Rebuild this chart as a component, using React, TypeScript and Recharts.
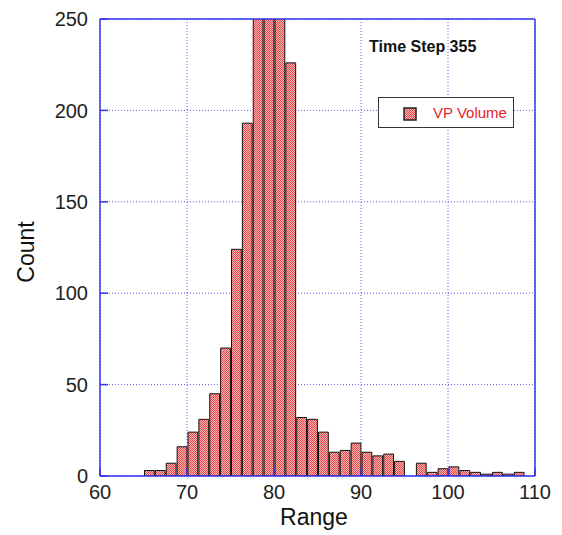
import { ComposedChart, Bar, XAxis, YAxis, CartesianGrid, ReferenceLine } from 'recharts'

// bin centres (bins are 1.25 wide, starting at 65)
const binCenters = [
  65.625, 66.875, 68.125, 69.375, 70.625, 71.875, 73.125, 74.375, 75.625, 76.875,
  78.125, 79.375, 80.625, 81.875, 83.125, 84.375, 85.625, 86.875, 88.125, 89.375,
  90.625, 91.875, 93.125, 94.375, 95.625, 96.875, 98.125, 99.375, 100.625, 101.875,
  103.125, 104.375, 105.625, 106.875, 108.125,
]
const counts = [
  3, 3, 7, 16, 24, 31, 45, 70, 124, 193,
  290, 310, 300, 226, 32, 31, 24, 13, 14, 18,
  13, 11, 12, 8, 0, 7, 2, 4, 5, 3,
  2, 1, 2, 1, 2,
]
const xTicks = [60, 70, 80, 90, 100, 110]
const yTicks = [0, 50, 100, 150, 200, 250]

const data = binCenters.map((x, i) => ({ x, count: counts[i] }))

const AXIS = '#3535ee'
const FONT = '"Liberation Sans", Arial, Helvetica, sans-serif'
const tickStyle = { fontSize: 20, fill: '#222', fontFamily: FONT }

export default function App() {
  return (
    <div style={{ position: 'absolute', left: 0, top: 0, width: 562, height: 535, background: '#fff' }}>
      <svg width={0} height={0} style={{ position: 'absolute' }}>
        <defs>
          <pattern id="hatch" patternUnits="userSpaceOnUse" width={2} height={2}>
            <rect width={2} height={2} fill="#fbb4b4" />
            <rect x={0} y={0} width={1} height={1} fill="#e64a4a" />
            <rect x={1} y={1} width={1} height={1} fill="#e64a4a" />
          </pattern>
        </defs>
      </svg>
      <ComposedChart
        width={562}
        height={535}
        data={data}
        margin={{ top: 19, right: 27, bottom: 0, left: 0 }}
      >
        <CartesianGrid stroke="#5b5bf0" strokeDasharray="1 2" />
        <XAxis
          dataKey="x"
          type="number"
          domain={[60, 110]}
          ticks={xTicks}
          allowDataOverflow
          height={59}
          stroke={AXIS}
          strokeWidth={1.5}
          tick={tickStyle}
          tickSize={-8}
          tickMargin={17}
          tickLine={{ stroke: AXIS }}
          label={{
            content: () => (
              <text x={314} y={525} textAnchor="middle" fontSize={23} fill="#111" fontFamily={FONT}>
                Range
              </text>
            ),
          }}
        />
        <YAxis
          type="number"
          domain={[0, 250]}
          ticks={yTicks}
          allowDataOverflow
          width={100}
          stroke={AXIS}
          strokeWidth={1.5}
          tick={tickStyle}
          tickSize={-8}
          tickMargin={20}
          tickLine={{ stroke: AXIS }}
          label={{
            content: () => (
              <text
                x={34}
                y={252}
                transform="rotate(-90 34 252)"
                textAnchor="middle"
                fontSize={23}
                fill="#111"
                fontFamily={FONT}
              >
                Count
              </text>
            ),
          }}
        />
        <ReferenceLine x={110} stroke={AXIS} strokeWidth={1.5} />
        <ReferenceLine y={250} stroke={AXIS} strokeWidth={1.5} />
        <Bar
          dataKey="count"
          barSize={10.875}
          fill="url(#hatch)"
          stroke="#111"
          strokeWidth={1}
          isAnimationActive={false}
        />
      </ComposedChart>
      <div
        style={{
          position: 'absolute',
          left: 369,
          top: 38,
          fontFamily: FONT,
          fontWeight: 'bold',
          fontSize: 16,
          color: '#111',
          whiteSpace: 'nowrap',
        }}
      >
        Time Step 355
      </div>
      <div
        style={{
          position: 'absolute',
          left: 378,
          top: 97,
          width: 134,
          height: 29,
          border: '1.5px solid #333',
          background: '#fff',
        }}
      >
        <svg width={14} height={14} style={{ position: 'absolute', left: 24, top: 9 }}>
          <rect x={1} y={1} width={12} height={12} fill="url(#hatch)" stroke="#222" strokeWidth={1.5} />
        </svg>
        <span
          style={{
            position: 'absolute',
            left: 54,
            top: 6,
            fontFamily: FONT,
            fontSize: 15,
            color: '#e8242a',
            whiteSpace: 'nowrap',
          }}
        >
          VP Volume
        </span>
      </div>
    </div>
  )
}
